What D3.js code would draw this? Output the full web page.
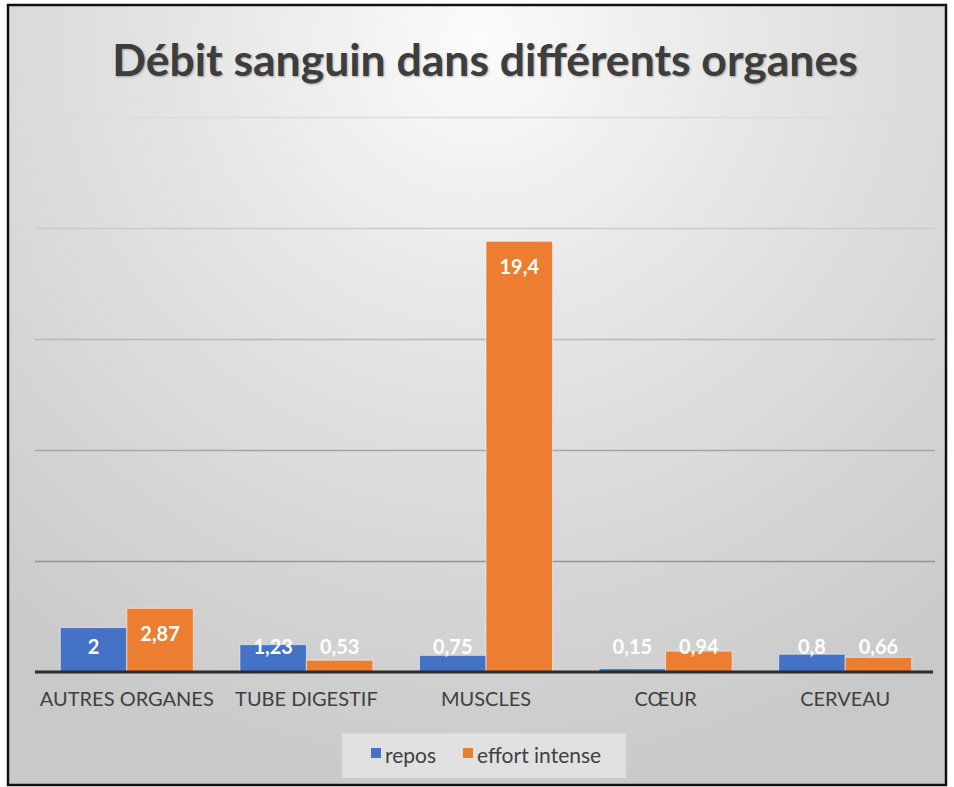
<!DOCTYPE html>
<html><head><meta charset="utf-8">
<script src="https://cdn.jsdelivr.net/npm/d3@7"></script>
<style>html,body{margin:0;padding:0;background:#fff;}svg{display:block;}</style>
</head><body>
<script>
const categories = ["AUTRES ORGANES", "TUBE DIGESTIF", "MUSCLES", "CŒUR", "CERVEAU"];
const repos = [2, 1.23, 0.75, 0.15, 0.8];
const effortIntense = [2.87, 0.53, 19.4, 0.94, 0.66];
const seriesNames = ["repos", "effort intense"];
const seriesColors = ["#4472C4", "#ED7D31"];
const yTicks = [0, 5, 10, 15, 20, 25];
const title = "Débit sanguin dans différents organes";

const W = 954, H = 787;
const svg = d3.select("body").append("svg").attr("width", W).attr("height", H);
const defs = svg.append("defs");
const bg = defs.append("radialGradient").attr("id", "bg")
  .attr("gradientUnits", "userSpaceOnUse").attr("cx", 480).attr("cy", 40).attr("r", 760)
  .attr("fx", 480).attr("fy", 40);
bg.append("stop").attr("offset", "0%").attr("stop-color", "#fbfbfb");
bg.append("stop").attr("offset", "45%").attr("stop-color", "#e2e2e2");
bg.append("stop").attr("offset", "100%").attr("stop-color", "#c9c9c9");

svg.append("rect").attr("x", 8).attr("y", 5).attr("width", 938).attr("height", 780)
  .attr("fill", "url(#bg)").attr("stroke", "#111").attr("stroke-width", 2.5);

svg.append("text").attr("x", 485).attr("y", 76).attr("text-anchor", "middle")
  .attr("font-family", "Lato, 'Open Sans', sans-serif").attr("font-weight", "bold")
  .attr("font-size", 44.5).attr("fill", "#3d3d3d")
  .style("text-shadow", "1px 1px 2px rgba(0,0,0,0.3)")
  .text(title);

const x0 = d3.scaleBand().domain(categories).range([37, 935]).paddingInner(0).paddingOuter(0);
const x1 = d3.scaleBand().domain(seriesNames).range([0, x0.bandwidth()]).paddingInner(0).paddingOuter(0.35);
const y = d3.scaleLinear().domain([0, 25]).range([672, 117]);

// gridlines
const gridColor = d3.scaleLinear().domain([25, 5]).range(["#dcdcdc", "#949494"]);
const grid = svg.append("g")
  .attr("transform", "translate(935,0)")
  .call(d3.axisLeft(y).tickValues(yTicks.slice(1)).tickSize(900).tickFormat(""));
grid.select(".domain").remove();
grid.selectAll(".tick line").attr("stroke", d => gridColor(d)).attr("stroke-width", 1.5);

const data = categories.map((c, i) => ({cat: c, vals: [repos[i], effortIntense[i]]}));
const fmt = v => String(v).replace(".", ",");

const groups = svg.append("g").selectAll("g").data(data).join("g")
  .attr("transform", d => `translate(${x0(d.cat)},0)`);
groups.selectAll("rect").data(d => d.vals.map((v, j) => ({s: seriesNames[j], v, j}))).join("rect")
  .attr("x", d => x1(d.s)).attr("width", x1.bandwidth())
  .attr("y", d => y(d.v)).attr("height", d => y(0) - y(d.v))
  .attr("fill", d => seriesColors[d.j])
  .attr("stroke", "rgba(255,255,255,0.55)").attr("stroke-width", 1);
groups.selectAll("text").data(d => d.vals.map((v, j) => ({s: seriesNames[j], v, j}))).join("text")
  .attr("x", d => x1(d.s) + x1.bandwidth() / 2)
  .attr("y", d => Math.min(y(d.v) + 26, y(0) - 25) + 7)
  .attr("text-anchor", "middle")
  .attr("font-family", "Lato, 'Open Sans', sans-serif").attr("font-weight", "bold")
  .attr("font-size", 20).attr("fill", "#fff")
  .text(d => fmt(d.v));

// baseline + category axis
const xAxis = svg.append("g").attr("transform", `translate(0,${y(0)})`)
  .call(d3.axisBottom(x0).tickSize(0).tickPadding(20));
xAxis.select(".domain").attr("stroke", "#2b2b2b").attr("stroke-width", 3).attr("d", "M35,0H933");
xAxis.selectAll("text").attr("font-family", "Lato, 'Open Sans', sans-serif")
  .attr("font-size", 20).attr("fill", "#404040").attr("dy", "0.71em");

// legend
const leg = svg.append("g");
leg.append("rect").attr("x", 342).attr("y", 733).attr("width", 284).attr("height", 45)
  .attr("fill", "#e1e1e1").attr("stroke", "#d4d4d4").attr("stroke-width", 1);
const legX = [371, 463];
seriesNames.forEach((n, i) => {
  leg.append("rect").attr("x", legX[i]).attr("y", 748).attr("width", 10).attr("height", 10).attr("fill", seriesColors[i]);
  leg.append("text").attr("x", legX[i] + 14).attr("y", 763)
    .attr("font-family", "Lato, 'Open Sans', sans-serif").attr("font-size", 21).attr("fill", "#404040").text(n);
});
</script>
</body></html>
